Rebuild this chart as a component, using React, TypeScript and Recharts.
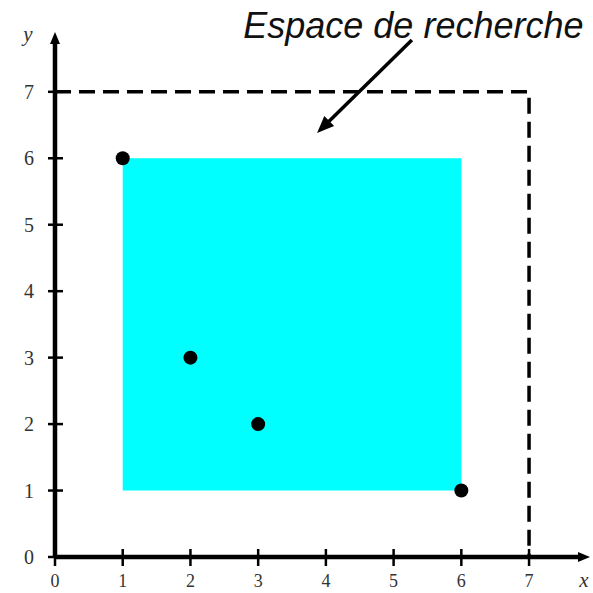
import { ComposedChart, XAxis, YAxis, Scatter, ReferenceArea, ReferenceLine, ReferenceDot } from "recharts";

const X_TICKS = [0, 1, 2, 3, 4, 5, 6, 7];
const Y_TICKS = [0, 1, 2, 3, 4, 5, 6, 7];
const POINT_X = [1, 2, 3, 6];
const POINT_Y = [6, 3, 2, 1];
const SEARCH_SPACE = [0, 7];
const BOUNDING_BOX = [1, 6];
const AXIS_MAX = 7.9;
const ARROW_FROM = { x: 5.27, y: 7.78 };
const ARROW_TO = { x: 3.87, y: 6.38 };
const TITLE = "Espace de recherche";
const TITLE_AT = { x: 2.78, y: 7.81 };

const points = POINT_X.map((x, i) => ({ x, y: POINT_Y[i] }));

const serif = "'Liberation Serif', 'DejaVu Serif', serif";

function arrowShape(width: number, head: number, half: number) {
  return (p: any) => {
    const { x1, y1, x2, y2 } = p;
    const a = Math.atan2(y2 - y1, x2 - x1);
    const bx = x2 - head * Math.cos(a);
    const by = y2 - head * Math.sin(a);
    const nx = -Math.sin(a) * half;
    const ny = Math.cos(a) * half;
    return (
      <g>
        <line x1={x1} y1={y1} x2={bx + Math.cos(a) * 2} y2={by + Math.sin(a) * 2} stroke="#000" strokeWidth={width} />
        <polygon points={`${x2},${y2} ${bx + nx},${by + ny} ${bx - nx},${by - ny}`} fill="#000" />
      </g>
    );
  };
}

function XTick({ x, y, payload }: any) {
  return (
    <g>
      <line x1={x} y1={y - 8} x2={x} y2={y + 9} stroke="#000" strokeWidth={2.5} />
      <text x={x} y={y + 30} textAnchor="middle" fontFamily={serif} fontSize={18} fill="#333">
        {payload.value}
      </text>
    </g>
  );
}

function YTick({ x, y, payload }: any) {
  return (
    <g>
      <line x1={x - 7} y1={y} x2={x + 8} y2={y} stroke="#000" strokeWidth={2.5} />
      <text x={29} y={y + 7} textAnchor="middle" fontFamily={serif} fontSize={20} fill="#333">
        {payload.value}
      </text>
    </g>
  );
}

export default function App() {
  return (
    <div style={{ position: "absolute", left: 0, top: 0, background: "#fff" }}>
      <ComposedChart width={593} height={593} margin={{ top: 32, right: 3, left: 0, bottom: 0 }}>
        <XAxis
          type="number"
          dataKey="x"
          domain={[0, AXIS_MAX]}
          ticks={X_TICKS}
          interval={0}
          allowDataOverflow
          axisLine={false}
          tickLine={false}
          tickSize={0}
          tickMargin={0}
          height={36}
          tick={XTick}
        />
        <YAxis
          type="number"
          dataKey="y"
          domain={[0, AXIS_MAX]}
          ticks={Y_TICKS}
          interval={0}
          allowDataOverflow
          axisLine={false}
          tickLine={false}
          tickSize={0}
          tickMargin={0}
          width={55}
          tick={YTick}
        />
        <ReferenceArea
          x1={BOUNDING_BOX[0]}
          x2={BOUNDING_BOX[1]}
          y1={BOUNDING_BOX[0]}
          y2={BOUNDING_BOX[1]}
          fill="#00ffff"
          fillOpacity={1}
          stroke="none"
          ifOverflow="visible"
        />
        <ReferenceArea
          x1={SEARCH_SPACE[0]}
          x2={SEARCH_SPACE[1]}
          y1={SEARCH_SPACE[0]}
          y2={SEARCH_SPACE[1]}
          fill="none"
          stroke="#000"
          strokeWidth={3.5}
          strokeDasharray="16 8"
          ifOverflow="visible"
        />
        <ReferenceLine
          segment={[{ x: 0, y: 0 }, { x: AXIS_MAX, y: 0 }]}
          shape={arrowShape(4.5, 12, 5)}
          ifOverflow="visible"
        />
        <ReferenceLine
          segment={[{ x: 0, y: 0 }, { x: 0, y: AXIS_MAX }]}
          shape={arrowShape(4.5, 12, 5)}
          ifOverflow="visible"
        />
        <ReferenceLine
          segment={[ARROW_FROM, ARROW_TO]}
          shape={arrowShape(3.5, 17, 7)}
          ifOverflow="visible"
        />
        <ReferenceDot
          x={AXIS_MAX}
          y={0}
          ifOverflow="visible"
          shape={(p: any) => (
            <text x={p.cx - 6} y={p.cy + 30} textAnchor="middle" fontFamily={serif} fontStyle="italic" fontSize={21} fill="#333">
              x
            </text>
          )}
        />
        <ReferenceDot
          x={0}
          y={AXIS_MAX}
          ifOverflow="visible"
          shape={(p: any) => (
            <text x={p.cx - 27} y={p.cy + 9} textAnchor="middle" fontFamily={serif} fontStyle="italic" fontSize={21} fill="#333">
              y
            </text>
          )}
        />
        <ReferenceDot
          x={TITLE_AT.x}
          y={TITLE_AT.y}
          ifOverflow="visible"
          shape={(p: any) => (
            <text x={p.cx} y={p.cy} fontFamily="'Liberation Sans', Arial, sans-serif" fontStyle="italic" fontSize={36} fill="#111">
              {TITLE}
            </text>
          )}
        />
        <Scatter
          data={points}
          isAnimationActive={false}
          shape={(p: any) => <circle cx={p.cx} cy={p.cy} r={7} fill="#000" />}
        />
      </ComposedChart>
    </div>
  );
}
